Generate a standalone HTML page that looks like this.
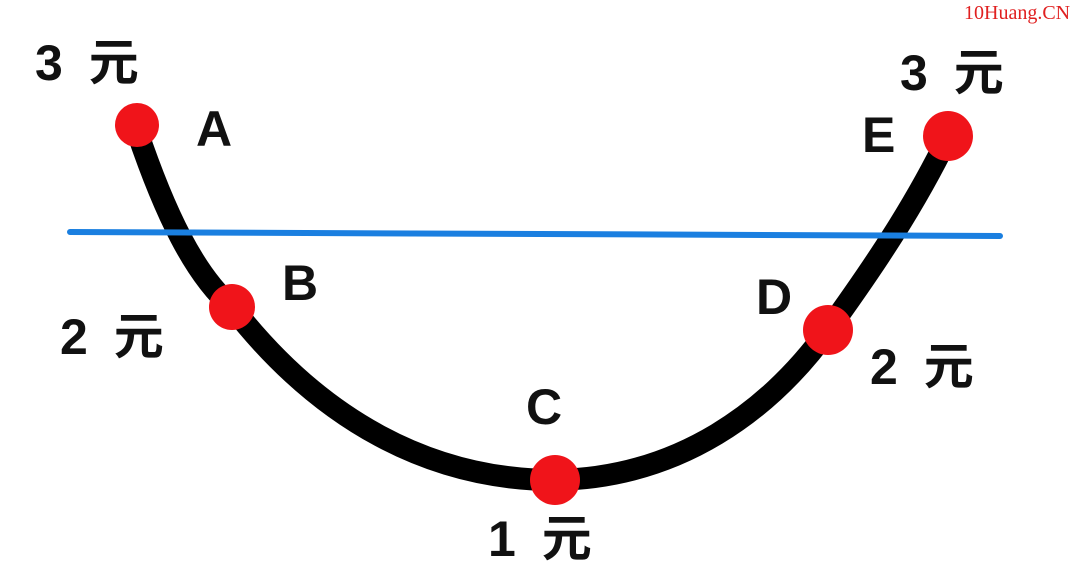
<!DOCTYPE html>
<html><head><meta charset="utf-8"><style>
html,body{margin:0;padding:0;background:#fff;}
.t{position:absolute;font-family:"Liberation Sans","Noto Sans CJK SC",sans-serif;color:#111;font-size:50px;line-height:1;font-weight:bold;letter-spacing:6px;}
</style></head><body>
<div style="position:relative;width:1080px;height:577px;overflow:hidden;background:#fff">
<svg width="1080" height="577" style="position:absolute;left:0;top:0">
<path d="M135,125 C165,215 195,275 232,307 C320,420 430,480 555,480 C680,478 770,410 828,330 C875,265 915,205 948,137" fill="none" stroke="#000" stroke-width="22" stroke-linecap="round"/>
<line x1="70" y1="232" x2="1000" y2="236" stroke="#1a7fe0" stroke-width="6" stroke-linecap="round"/>
<circle cx="137" cy="125" r="22" fill="#f0141a"/>
<circle cx="232" cy="307" r="23" fill="#f0141a"/>
<circle cx="555" cy="480" r="25" fill="#f0141a"/>
<circle cx="828" cy="330" r="25" fill="#f0141a"/>
<circle cx="948" cy="136" r="25" fill="#f0141a"/>
</svg>
<div class="t" style="left:35px;top:38px">3 元</div>
<div class="t" style="left:196px;top:104px">A</div>
<div class="t" style="left:282px;top:258px">B</div>
<div class="t" style="left:60px;top:312px">2 元</div>
<div class="t" style="left:526px;top:382px">C</div>
<div class="t" style="left:488px;top:514px">1 元</div>
<div class="t" style="left:756px;top:272px">D</div>
<div class="t" style="left:870px;top:342px">2 元</div>
<div class="t" style="left:862px;top:110px">E</div>
<div class="t" style="left:900px;top:48px">3 元</div>
<div style="position:absolute;left:964px;top:2px;font-family:'Liberation Serif',serif;font-size:20px;color:#e02020">10Huang.CN</div>
</div>
</body></html>
